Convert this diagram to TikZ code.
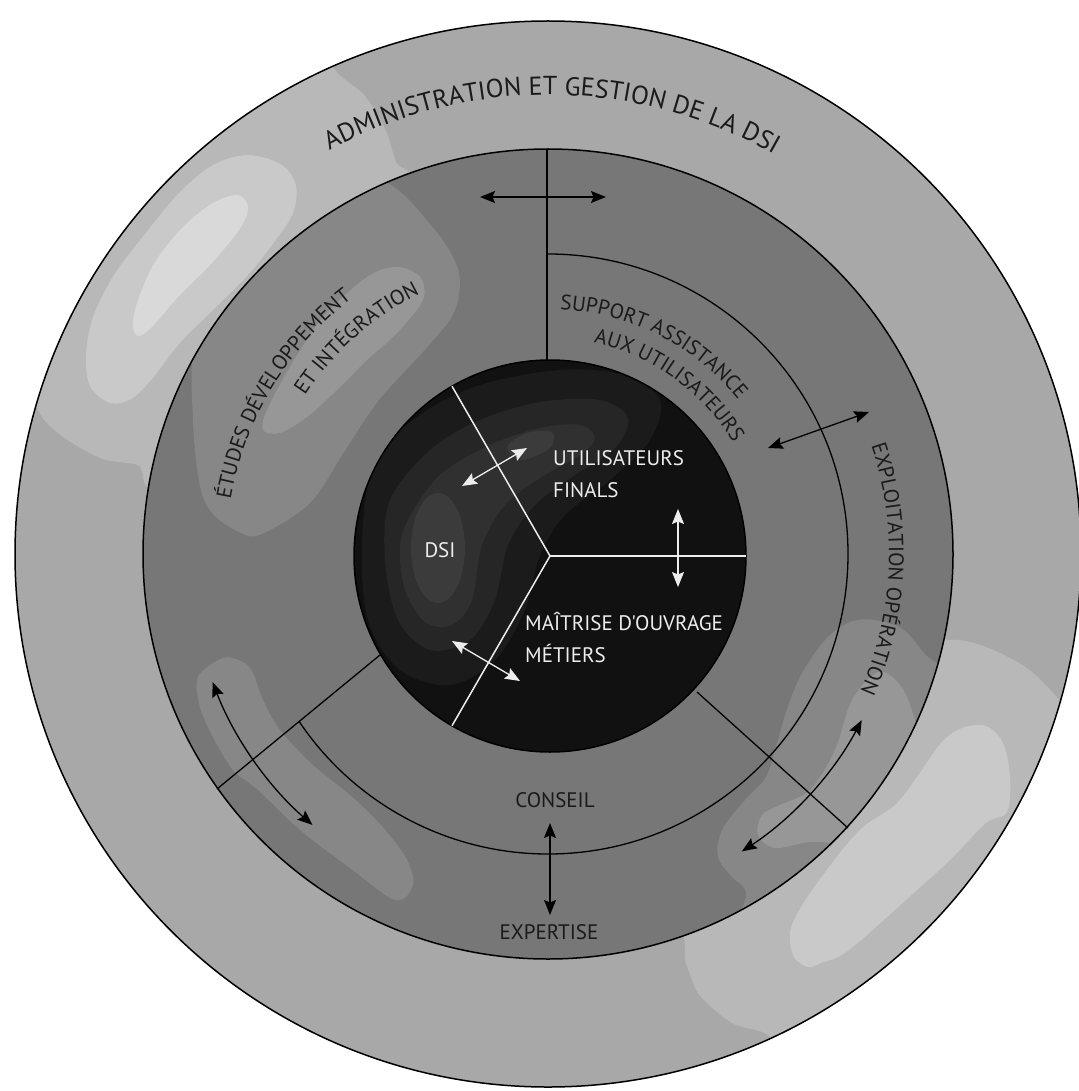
\documentclass[tikz,border=0pt]{standalone}
\usepackage{fontspec}
\newfontfamily\dfont{PT Sans}
\usetikzlibrary{arrows.meta,decorations.text,calc}
\definecolor{ringA}{HTML}{A8A8A8}
\definecolor{ringAa}{HTML}{B8B8B8}
\definecolor{ringAb}{HTML}{C9C9C9}
\definecolor{ringAc}{HTML}{D9D9D9}
\definecolor{ringB}{HTML}{777777}
\definecolor{ringBa}{HTML}{878787}
\definecolor{ringBb}{HTML}{979797}
\definecolor{ringC}{HTML}{111111}
\definecolor{ringCa}{HTML}{1B1B1B}
\definecolor{ringCb}{HTML}{262626}
\definecolor{ringCc}{HTML}{303030}
\definecolor{ringCd}{HTML}{3B3B3B}
\definecolor{txtdark}{HTML}{1A1A1A}
\definecolor{txtwhite}{HTML}{EDEDED}
\tikzset{
  edge/.style={draw=black, line width=1.5pt},
  divider/.style={draw=black, line width=1.3pt},
  wline/.style={draw=txtwhite, line width=1.5pt},
  darr/.style={draw=black, line width=1.3pt, {Stealth[length=15pt,width=12pt,inset=2.5pt]}-{Stealth[length=15pt,width=12pt,inset=2.5pt]}},
  warr/.style={darr, draw=txtwhite},
  lbl/.style={font=\dfont\fontsize{21}{21}\selectfont, inner sep=0pt, text=txtdark},
  wlbl/.style={lbl, text=txtwhite},
  blob/.style={smooth cycle, tension=0.55},
}
\begin{document}
\begin{tikzpicture}[x=1pt,y=-1pt]
\useasboundingbox (0,0) rectangle (1078,1091);
\fill[white] (0,0) rectangle (1078,1091);
\coordinate (C) at (548,554);
\coordinate (Ci) at (550,556);

% ---------- outer ring ----------
\fill[ringA] (C) circle[radius=533];
\begin{scope}
\clip (C) circle[radius=533];
\fill[ringAa] plot[blob] coordinates {(340,0) (331,62) (365,96) (386,131) (396,162) (412,192) (300,300) (162,478) (138,465) (103,459) (69,441) (45,421) (30,398) (0,380) (0,0)};
\fill[ringAb] plot[blob] coordinates {(248,155) (282,165) (296,186) (293,213) (275,241) (248,275) (213,310) (179,344) (152,379) (131,399) (110,403) (90,386) (86,355) (93,317) (114,275) (145,234) (179,193) (213,165)};
\fill[ringAc] plot[blob] coordinates {(238,195) (248,207) (241,227) (213,262) (179,296) (152,327) (138,336) (133,324) (138,300) (155,262) (183,227) (213,203)};
\fill[ringAa] plot[blob] coordinates {(952,640) (986,647) (1027,668) (1055,695) (1075,718) (1110,760) (1100,1100) (780,1100) (773,1040) (732,1023) (701,997) (691,977) (685,950) (700,900) (850,800) (930,655)};
\fill[ringAb] plot[blob] coordinates {(986,726) (1003,743) (1010,777) (1007,812) (986,823) (950,860) (917,890) (849,950) (821,963) (808,967) (794,957) (790,933) (801,907) (832,863) (862,828) (895,805) (917,777) (941,743) (962,728)};
\end{scope}
\draw[edge] (C) circle[radius=533];

% ---------- middle ring ----------
\fill[ringB] (C) circle[radius=405];
\begin{scope}
\clip (C) circle[radius=405];
\fill[ringBa] plot[blob] coordinates {(193,421) (200,486) (213,514) (241,533) (262,534) (310,503) (344,452) (379,400) (430,344) (455,310) (458,269) (430,224) (380,180) (300,190) (230,260) (195,340)};
\fill[ringBb] plot[blob] coordinates {(263,430) (267,410) (290,367) (323,317) (367,277) (397,267) (420,277) (423,300) (397,333) (367,360) (337,390) (307,417) (280,433)};
\fill[ringBa] plot[blob] coordinates {(223,658) (243,662) (253,673) (263,700) (280,730) (313,765) (350,795) (380,824) (406,858) (413,885) (395,900) (350,868) (300,830) (258,790) (233,770) (213,737) (200,707) (198,677)};
\fill[ringBa] plot[blob] coordinates {(875,620) (904,630) (928,657) (970,690) (990,800) (900,930) (750,935) (746,892) (732,877) (718,857) (722,830) (745,800) (766,777) (777,743) (787,709) (801,675) (825,640) (850,622)};
\fill[ringBb] plot[blob] coordinates {(878,672) (900,685) (915,720) (935,800) (860,860) (839,845) (810,842) (775,848) (758,835) (762,815) (780,805) (810,790) (835,750) (852,700)};
\end{scope}
\draw[edge] (C) circle[radius=405];

% ---------- inner disc ----------
\fill[ringC] (Ci) circle[radius=196];
\begin{scope}
\clip (Ci) circle[radius=196];
\fill[ringCa] plot[blob] coordinates {(375,460) (420,415) (480,385) (560,370) (625,375) (660,400) (650,440) (610,480) (565,515) (540,555) (525,610) (495,660) (450,685) (400,670) (368,620) (362,540)};
\fill[ringCb] plot[blob] coordinates {(390,500) (430,450) (480,420) (540,402) (600,400) (628,418) (615,448) (575,475) (535,505) (508,545) (495,600) (470,640) (430,650) (398,620) (385,560)};
\fill[ringCc] plot[blob] coordinates {(408,520) (440,475) (490,445) (540,428) (580,425) (595,438) (580,455) (540,478) (505,505) (482,545) (472,600) (452,625) (425,622) (405,590) (400,550)};
\fill[ringCd] (438,548) ellipse[x radius=27, y radius=55];
\fill[ringCd] plot[blob] coordinates {(507,447) (527,433) (552,432) (550,448) (522,460)};
\end{scope}
\draw[edge] (Ci) circle[radius=196];

% ---------- dividers ----------
\coordinate (t1) at (547,149); \coordinate (t2) at (547,360);
\coordinate (l1) at (380,655); \coordinate (l2) at (217,789);
\coordinate (r1) at (697,692); \coordinate (r2) at (848,828);
\draw[divider] (t1) -- (t2);
\draw[divider] (l1) -- (l2);
\draw[divider] (r1) -- (r2);
\draw[divider] ($(C)+(-90:300)$) arc[start angle=-90, end angle=146.1, radius=300];

% white Y lines
\coordinate (y1) at ($(Ci)+(-120:196)$);
\coordinate (y2) at ($(Ci)+(120:196)$);
\coordinate (y3) at ($(Ci)+(0:196)$);
\draw[wline] (y1) -- (Ci) -- (y2);
\draw[wline] (Ci) -- (y3);

% ---------- arrows ----------
\coordinate (a1) at (480,197); \coordinate (a2) at (606,197);
\coordinate (b1) at (768,448); \coordinate (b2) at (869,412);
\coordinate (c1) at (550,823); \coordinate (c2) at (550,915);
\draw[darr] (a1) -- (a2);
\draw[darr] (b1) -- (b2);
\draw[darr] (c1) -- (c2);
\draw[darr] ($(C)+(159.1:359)$) arc[start angle=159.1, end angle=131, radius=359];
\draw[darr] ($(C)+(27.9:355)$) arc[start angle=27.9, end angle=56.9, radius=355];
\coordinate (w1) at (462,486); \coordinate (w2) at (527,448);
\coordinate (w3) at (678,509); \coordinate (w4) at (678,587);
\coordinate (w5) at (452,641); \coordinate (w6) at (520,681);
\draw[warr] (w1) -- (w2);
\draw[warr] (w3) -- (w4);
\draw[warr] (w5) -- (w6);

% ---------- straight labels ----------
\node[wlbl, anchor=base west] (utl) at (553,465) {UTILISATEURS};
\node[wlbl, anchor=base west] (fin) at (553,497) {FINALS};
\node[wlbl, anchor=base] (dsi) at (440,557) {DSI};
\node[wlbl, anchor=base west] (moa) at (525,630) {MAÎTRISE D'OUVRAGE};
\node[wlbl, anchor=base west] (met) at (525,662) {MÉTIERS};
\node[lbl, anchor=base] (cons) at (555,807) {CONSEIL};
\node[lbl, anchor=base] (expt) at (549,939) {EXPERTISE};

% ---------- curved labels ----------
\path[decorate, decoration={text along path, text align=center, text color=txtdark,
  text={|\dfont\fontsize{26}{26}\selectfont|ADMINISTRATION ET GESTION DE LA DSI}}]
  ($(C)+(-150:459)$) arc[start angle=-150, end angle=-29, radius=459];
\path[decorate, decoration={text along path, text align=center, text color=txtdark,
  text={|\dfont\fontsize{21}{21}\selectfont|SUPPORT ASSISTANCE}}]
  ($(C)+(-103.1:245)$) arc[start angle=-103.1, end angle=-23.1, radius=245];
\path[decorate, decoration={text along path, text align=center, text color=txtdark,
  text={|\dfont\fontsize{21}{21}\selectfont|AUX UTILISATEURS}}]
  ($(C)+(-94.35:216)$) arc[start angle=-94.35, end angle=-14.35, radius=216];
\path[decorate, decoration={text along path, text align=center, text color=txtdark,
  text={|\dfont\fontsize{21}{21}\selectfont|ÉTUDES DÉVELOPPEMENT}}]
  ($(C)+(-188.9:322)$) arc[start angle=-188.9, end angle=-108.9, radius=322];
\path[decorate, decoration={text along path, text align=center, text color=txtdark,
  text={|\dfont\fontsize{21}{21}\selectfont|ET INTÉGRATION}}]
  ($(C)+(-171.6:290)$) arc[start angle=-171.6, end angle=-91.6, radius=290];
\path[decorate, decoration={text along path, text align=center, text color=txtdark,
  text={|\dfont\fontsize{21}{21}\selectfont|EXPLOITATION OPÉRATION}}]
  ($(C)+(-37.45:341)$) arc[start angle=-37.45, end angle=42.55, radius=341];
\end{tikzpicture}
\end{document}
